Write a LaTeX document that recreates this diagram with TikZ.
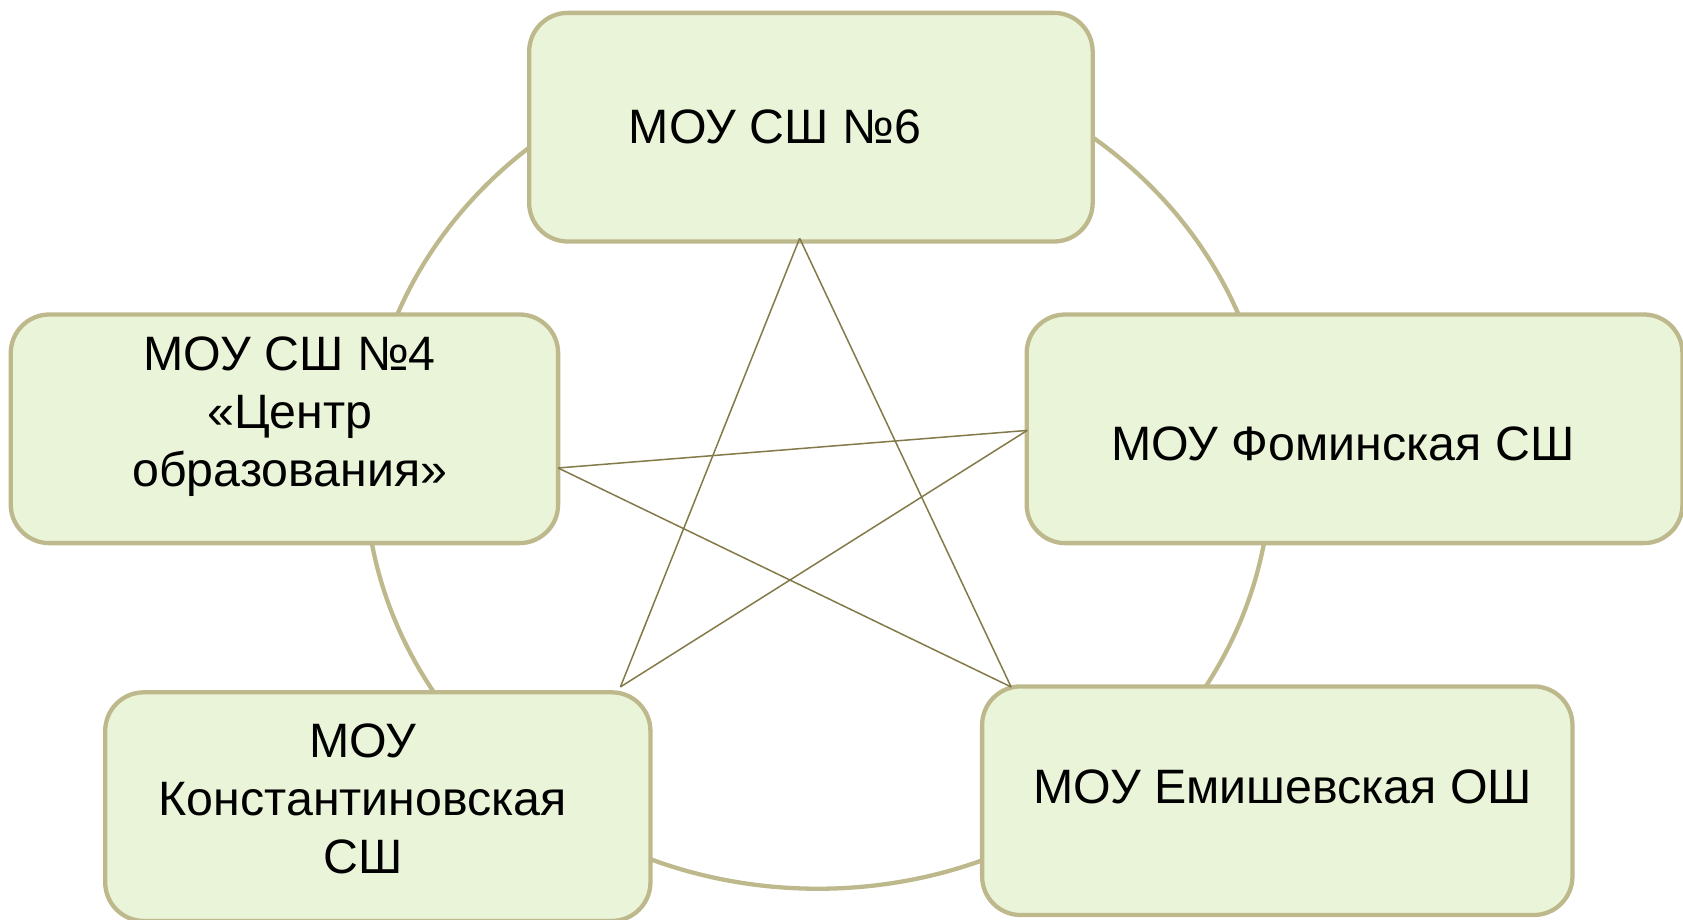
\documentclass[tikz,border=0pt]{standalone}
\usepackage{fontspec}
\setmainfont{Liberation Sans}
\definecolor{bordc}{RGB}{190,185,140}
\definecolor{fillc}{RGB}{234,244,216}
\definecolor{starc}{RGB}{130,122,72}
\begin{document}
\begin{tikzpicture}[x=0.5pt,y=-0.5pt,
  box/.style={draw=bordc, line width=2pt, fill=fillc, rounded corners=18pt, inner sep=0pt, minimum height=106.5pt},
  lbl/.style={font=\fontsize{22.5}{27}\selectfont, align=center, inner sep=0pt},
  link/.style={draw=starc, line width=0.7pt}]
\useasboundingbox (0,0) rectangle (1568,857);
\draw[bordc, line width=2pt] (762,438) ellipse [x radius=422, y radius=390];
\node[box, minimum width=262.5pt] (b6) at (755.5,118.5) {};
\node[box, minimum width=255pt] (b4) at (265,399.5) {};
\node[box, minimum width=305.5pt] (bf) at (1262,399.5) {};
\node[box, minimum width=254pt] (bk) at (352,751.5) {};
\node[box, minimum width=275pt] (be) at (1190,746) {};
\node[lbl] (t6) at (722,118) {МОУ СШ №6};
\node[lbl] (t4) at (270,388) {МОУ СШ №4\\«Центр\\образования»};
\node[lbl] (tf) at (1251,414) {МОУ Фоминская СШ};
\node[lbl] (tk) at (338,744) {МОУ\\Константиновская\\СШ};
\node[lbl] (te) at (1195,733) {МОУ Емишевская ОШ};
\coordinate (pT) at (745,222);
\coordinate (pL) at (520,436);
\coordinate (pR) at (957,401);
\coordinate (pK) at (578,640);
\coordinate (pE) at (942,640);
\draw[link] (pT) -- (pK);
\draw[link] (pT) -- (pE);
\draw[link] (pL) -- (pR);
\draw[link] (pL) -- (pE);
\draw[link] (pR) -- (pK);
\end{tikzpicture}
\end{document}
